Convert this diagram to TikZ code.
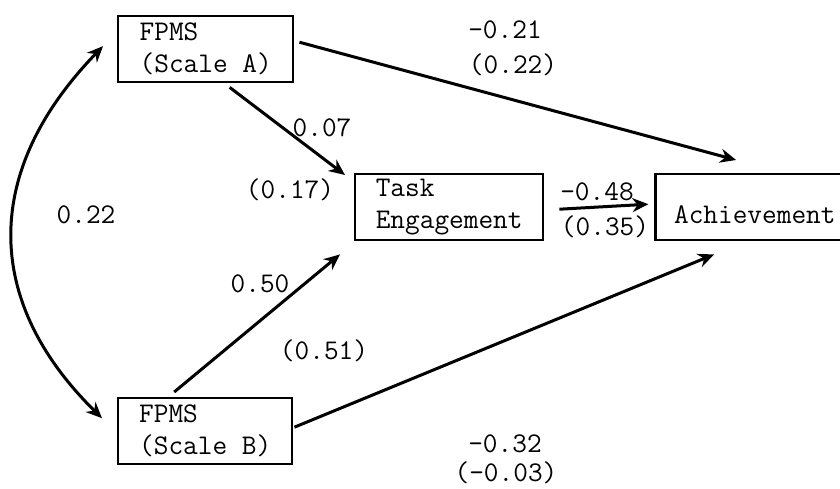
\documentclass[tikz,border=0pt]{standalone}
\usepackage{fontspec}
\usetikzlibrary{positioning, arrows.meta}

\begin{document}
\begin{tikzpicture}[x=1pt, y=-1pt, every node/.style={font=\ttfamily\fontsize{28.5}{32}\selectfont, inner sep=0pt},
    box/.style={draw, line width=2.4pt, align=left, minimum height=66pt, anchor=north west},
    link/.style={line width=3pt, -{Stealth[length=16pt, width=14pt]}}]
    \useasboundingbox (0,0) rectangle (840,488);

    \node[box, minimum width=175pt] (scaleA) at (117,15) {FPMS\\(Scale A)};
    \node[box, minimum width=174pt] (scaleB) at (117,397) {FPMS\\(Scale B)};
    \node[box, minimum width=188pt] (task) at (354,173) {Task\\Engagement};
    \node[box, anchor=west, minimum width=187pt, right=110pt of task] (ach) {\mbox{}\\\makebox[150pt][l]{Achievement}};

    \node (wAach) at (505,30) {-0.21};
    \node (sAach) at (513,65) {(0.22)};
    \node (wAtask) at (322,128) {0.07};
    \node (sAtask) at (290,190) {(0.17)};
    \node (wAB) at (86,215) {0.22};
    \node (wtask) at (597,192) {-0.48};
    \node (stask) at (605,227) {(0.35)};
    \node (wBtask) at (260,284) {0.50};
    \node (sBtask) at (324,351) {(0.51)};
    \node (wBach) at (505,444) {-0.32};
    \node (sBach) at (506,473) {(-0.03)};

    \draw[link] ([shift={(5,-7)}]scaleA.east) -- ([shift={(-13,-13)}]ach.north);
    \draw[link] ([shift={(24,4)}]scaleA.south) -- ([shift={(-9,2)}]task.north west);
    \draw[link] ([shift={(15,2)}]task.east) -- ([shift={(-6,-3)}]ach.west);
    \draw[link] ([shift={(-31,-5)}]scaleB.north) -- ([shift={(-14,13)}]task.south west);
    \draw[link] ([shift={(1,-4)}]scaleB.east) -- ([shift={(-35,13)}]ach.south);
    \draw[link, {Stealth[length=16pt, width=14pt]}-{Stealth[length=16pt, width=14pt]}]
        ([shift={(-14,-3)}]scaleA.west) .. controls (-17,170) and (-18,300) .. ([shift={(-15,-13)}]scaleB.west);
\end{tikzpicture}
\end{document}
